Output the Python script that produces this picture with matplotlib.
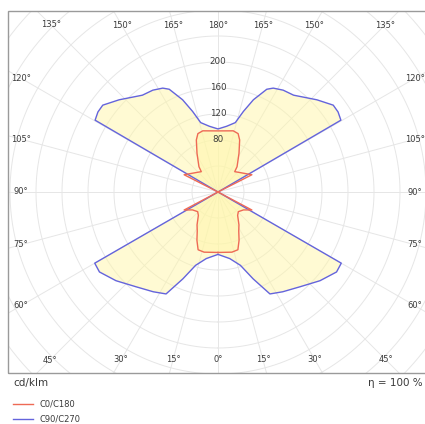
import numpy as np
import matplotlib
matplotlib.use("Agg")
import matplotlib.pyplot as plt
from matplotlib.patches import Rectangle

# luminous intensity, cd/klm, gamma measured from nadir (0) to zenith (180)
c0_gamma = [0, 13, 19, 23.6, 28, 32.5, 40, 46, 55, 62, 62.5,
            116.5, 117, 124.4, 131.7, 140.6, 143, 151.5, 157.4, 161, 166, 180]
c0_vals = [93, 95, 94, 81, 68, 60, 47, 43.5, 48, 59, 0,
           0, 58.5, 50.4, 45, 40.5, 48.7, 67.7, 86.7, 95, 97, 94]

c90_gamma = [0, 10, 17, 22, 27, 33, 41, 49, 56, 60, 60.5,
             119.5, 120.3, 123.7, 127, 133, 142, 147.4, 152, 154.6, 159, 162.5, 166, 172.5, 180]
c90_vals = [96, 104, 118, 144, 176, 183, 193, 208, 220, 219, 0,
            0, 219, 222, 222, 208, 189, 186, 181, 175, 152, 130, 110, 102, 97]

top_angles = [135, 150, 165, 180]
side_angles = [60, 75, 90, 105, 120]
bottom_angles = [0, 15, 30, 45]
radial_labels = [80, 120, 160, 200]

W, H = 425, 424
fig = plt.figure(figsize=(W / 100, H / 100), dpi=100)

cx, cy = 218, 192          # centre of the diagram, pixels from top-left
scale = 0.65               # px per cd/klm
rmax = 440
R = rmax * scale
ax = fig.add_axes([(cx - R) / W, (H - cy - R) / H, 2 * R / W, 2 * R / H],
                  projection="polar")
ax.set_theta_zero_location("S")
ax.set_rlim(0, rmax)
ax.axis("off")

# box the diagram is cut to
bx0, bx1, by0, by1 = 8, 428, 11, 373
clip = Rectangle((bx0 / W, (H - by1) / H), (bx1 - bx0) / W, (by1 - by0) / H,
                 transform=fig.transFigure)

grid_kw = dict(color="#e6e6e6", lw=0.7, zorder=1)
tt = np.linspace(0, 2 * np.pi, 400)
arts = []
for r in range(40, rmax + 1, 40):
    arts += ax.plot(tt, np.full_like(tt, r), **grid_kw)
for a in range(0, 360, 15):
    arts += ax.plot([np.radians(a)] * 2, [0, rmax], **grid_kw)

def both_sides(gamma, vals):
    g = np.radians(np.asarray(gamma, float))
    v = np.asarray(vals, float)
    # right half C0/C90, left half mirrored C180/C270
    th = np.concatenate([g, 2 * np.pi - g[::-1]])
    rr = np.concatenate([v, v[::-1]])
    return th, rr

for gamma, vals, col in [(c90_gamma, c90_vals, "#6464dc"),
                         (c0_gamma, c0_vals, "#ee6a55")]:
    th, rr = both_sides(gamma, vals)
    arts += ax.fill(th, rr, color="#fff6a8", alpha=0.5, lw=0, zorder=2)
    arts += ax.plot(th, rr, color=col, lw=1.0, zorder=3)

for a in arts:
    a.set_clip_path(clip)

fig.add_artist(Rectangle((bx0 / W, (H - by1) / H), (bx1 - bx0) / W, (by1 - by0) / H,
                         transform=fig.transFigure, fill=False,
                         edgecolor="#9a9a9a", lw=1.0))

lab_kw = dict(fontsize=6, color="#3a3a3a", ha="center", va="center")
for g in top_angles:
    rpx = (cy - 25) / np.cos(np.radians(180 - g))
    for th in {g % 360, (360 - g) % 360}:
        ax.text(np.radians(th), rpx / scale, f"{g}°", **lab_kw)
for g in side_angles:
    rpx = 197 / np.cos(np.radians(g - 90))
    for th in (g, 360 - g):
        ax.text(np.radians(th), rpx / scale, f"{g}°", **lab_kw)
for g in bottom_angles:
    rpx = (360 - cy) / np.cos(np.radians(g))
    for th in {g % 360, (360 - g) % 360}:
        ax.text(np.radians(th), rpx / scale, f"{g}°", **lab_kw)
for v in radial_labels:
    ax.text(np.pi, v, str(v), fontsize=6.3, color="#3a3a3a",
            ha="center", va="center", zorder=5)

fig.text(13 / W, 1 - 383 / H, "cd/klm", fontsize=7.5, color="#3a3a3a",
         ha="left", va="center")
fig.text(423 / W, 1 - 383 / H, "η = 100 %", fontsize=7.5, color="#3a3a3a",
         ha="right", va="center")

for y, col, name in [(404, "#ee6a55", "C0/C180"), (419, "#6464dc", "C90/C270")]:
    fig.add_artist(plt.Line2D([13 / W, 33 / W], [1 - y / H] * 2,
                              color=col, lw=1.0))
    fig.text(39 / W, 1 - y / H, name, fontsize=6, color="#3a3a3a",
             ha="left", va="center")

fig.savefig("out.png", dpi=100)
